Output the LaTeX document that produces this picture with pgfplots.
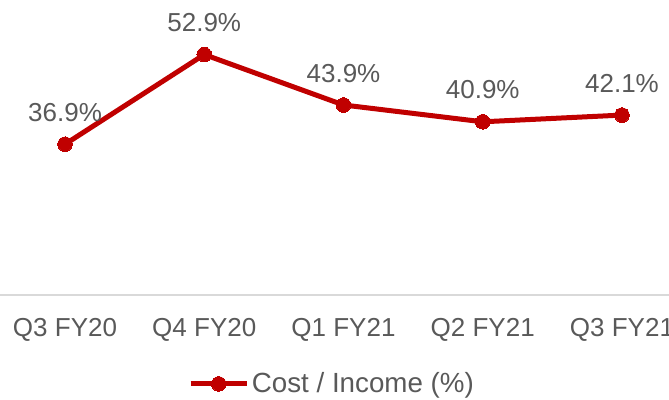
\documentclass[border=0pt]{standalone}
\usepackage{pgfplots}
\pgfplotsset{compat=1.18}
\usepackage{fontspec}
\setmainfont{Liberation Sans}
\definecolor{lred}{HTML}{C00000}
\definecolor{tgray}{HTML}{595959}
\definecolor{lgray}{HTML}{D9D9D9}
\begin{document}
\begin{tikzpicture}
\begin{axis}[
  at={(-3.45pt,78.75pt)}, anchor=south west,
  scale only axis, width=522.15pt, height=218.6pt,
  xmin=-0.5, xmax=4.5, ymin=10, ymax=62,
  axis y line=none,
  axis x line*=bottom,
  x axis line style={lgray, line width=1.2pt, -},
  xtick={0,1,2,3,4},
  xticklabels={Q3 FY20,Q4 FY20,Q1 FY21,Q2 FY21,Q3 FY21},
  major tick length=0pt,
  xticklabel style={font=\fontsize{19.5}{23}\selectfont, text=tgray, inner sep=0pt, yshift=-17pt},
  clip=false,
  nodes near coords={\pgfmathprintnumber[fixed,fixed zerofill,precision=1,assume math mode=true]{\pgfplotspointmeta}\%},
  every node near coord/.append style={anchor=south, inner sep=0pt, yshift=17pt, font=\fontsize{19.5}{23}\selectfont, text=tgray},
  legend style={at={(0.484,-0.305)}, anchor=center, draw=none, fill=none, font=\fontsize{20.8}{24}\selectfont, text=tgray, inner sep=0pt},
  legend cell align=left,
  legend image code/.code={\draw[mark repeat=2,mark phase=2,#1] plot coordinates {(0pt,0pt) (21pt,0pt) (42pt,0pt)};},
]
\addplot[lred, line width=3.75pt, line join=round, mark=*, mark size=5.5pt, mark options={solid, fill=lred, draw=lred, line width=0pt}]
  coordinates {(0,36.9) (1,52.9) (2,43.9) (3,40.9) (4,42.1)};
\addlegendentry{Cost / Income (\%)}
\end{axis}
\pgfresetboundingbox
\path[use as bounding box] (0,0) rectangle (501.75pt,300pt);
\end{tikzpicture}
\end{document}
